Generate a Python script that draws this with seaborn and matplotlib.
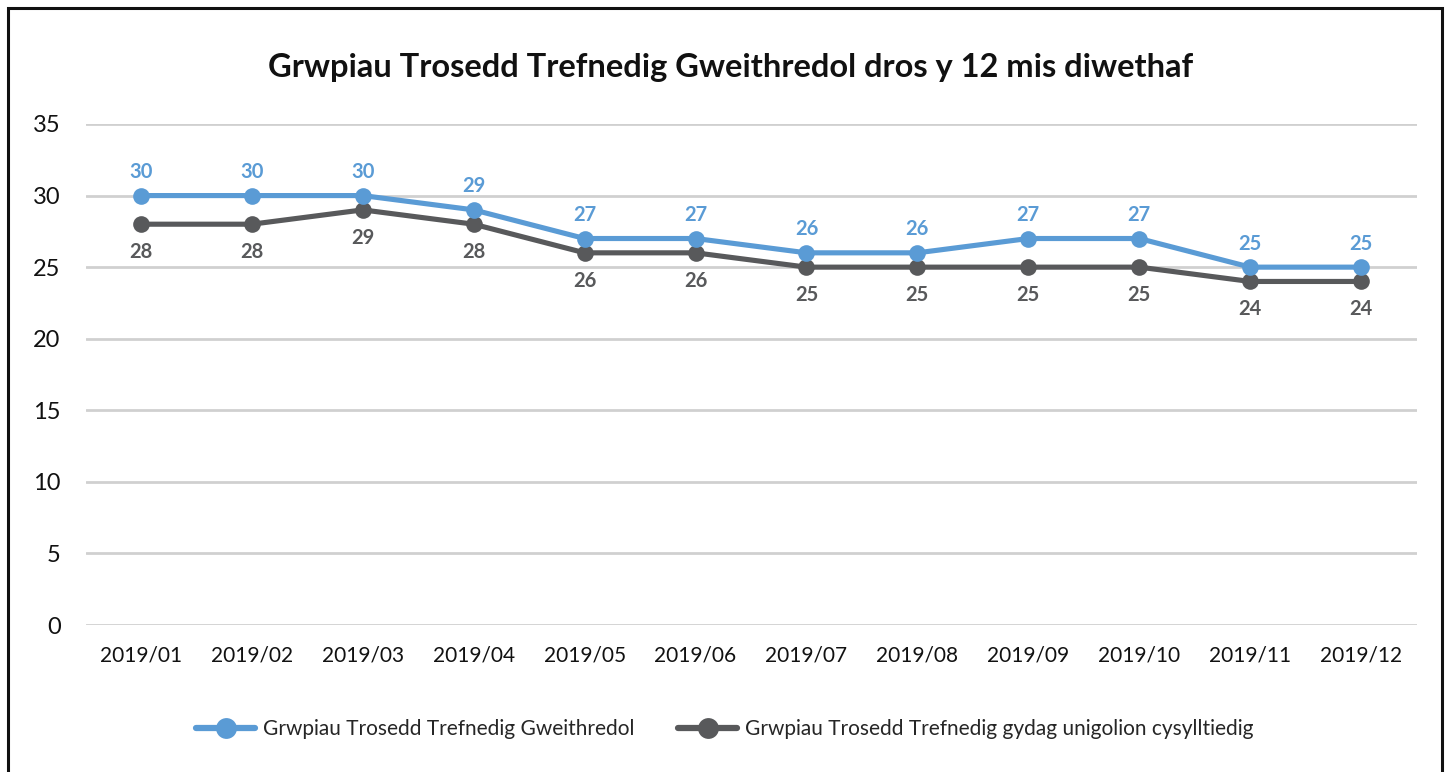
import matplotlib
matplotlib.use("Agg")
import matplotlib.pyplot as plt
import seaborn as sns
import pandas as pd
from matplotlib.patches import Rectangle
from matplotlib.lines import Line2D

months = ["2019/01", "2019/02", "2019/03", "2019/04", "2019/05", "2019/06",
          "2019/07", "2019/08", "2019/09", "2019/10", "2019/11", "2019/12"]
series_active = [30, 30, 30, 29, 27, 27, 26, 26, 27, 27, 25, 25]
series_linked = [28, 28, 29, 28, 26, 26, 25, 25, 25, 25, 24, 24]
name_active = "Grwpiau Trosedd Trefnedig Gweithredol"
name_linked = "Grwpiau Trosedd Trefnedig gydag unigolion cysylltiedig"
title = "Grwpiau Trosedd Trefnedig Gweithredol dros y 12 mis diwethaf"
yticks = [0, 5, 10, 15, 20, 25, 30, 35]

BLUE = "#5a9bd5"
GREY = "#58595b"

sns.set_theme(style="white")
plt.rcParams['font.family'] = ['Lato', 'DejaVu Sans']

df = pd.DataFrame({
    "month": months * 2,
    "value": series_active + series_linked,
    "series": [name_active] * len(months) + [name_linked] * len(months),
})

fig = plt.figure(figsize=(14.51, 7.72), dpi=100)
ax = fig.add_axes([85.5 / 1451, 1 - 625 / 772, (1416.5 - 85.5) / 1451, (625 - 124) / 772])

palette = {name_active: BLUE, name_linked: GREY}
sns.lineplot(data=df, x="month", y="value", hue="series", palette=palette,
             hue_order=[name_linked, name_active],
             marker="o", markersize=12, markeredgewidth=0, linewidth=3.7,
             ax=ax, legend=False, sort=False)

ax.set_xlim(-0.5, len(months) - 0.5)
ax.set_ylim(0, 35)
ax.set_yticks(yticks)
ax.set_xticks(range(len(months)))
ax.set_xticklabels(months)
ax.set_xlabel("")
ax.set_ylabel("")
for s in ax.spines.values():
    s.set_visible(False)
ax.grid(axis="y", color="#d0d0d0", linewidth=2)
ax.set_axisbelow(True)
ax.tick_params(axis="y", labelsize=17, pad=18, length=0, labelcolor="#111111")
ax.tick_params(axis="x", labelsize=15, pad=15, length=0, labelcolor="#111111")

for i, (a, b) in enumerate(zip(series_active, series_linked)):
    ax.annotate(str(a), (i, a), xytext=(0, 17), textcoords="offset points",
                ha="center", va="center", color=BLUE, fontsize=14.5, fontweight="bold")
    ax.annotate(str(b), (i, b), xytext=(0, -20), textcoords="offset points",
                ha="center", va="center", color=GREY, fontsize=14.5, fontweight="bold")

fig.text(731 / 1451, 1 - 68 / 772, title, ha="center", va="center",
         fontsize=23.5, fontweight="bold", color="#111111")

handles = [Line2D([], [], color=BLUE, marker="o", markersize=15, markeredgewidth=0, linewidth=4.5),
           Line2D([], [], color=GREY, marker="o", markersize=15, markeredgewidth=0, linewidth=4.5)]
fig.legend(handles, [name_active, name_linked], loc="center", ncol=2,
           bbox_to_anchor=(725 / 1451, 1 - 729 / 772), frameon=False,
           fontsize=15, handlelength=2.8, columnspacing=2.1, handletextpad=0.4)

fig.patches.append(Rectangle((7.5 / 1451, -0.1), (1441.5 - 7.5) / 1451, 1.1 - 7.5 / 772,
                             transform=fig.transFigure, fill=False, edgecolor="#111111",
                             linewidth=2.2, clip_on=False))

fig.savefig("out.png", dpi=100)
